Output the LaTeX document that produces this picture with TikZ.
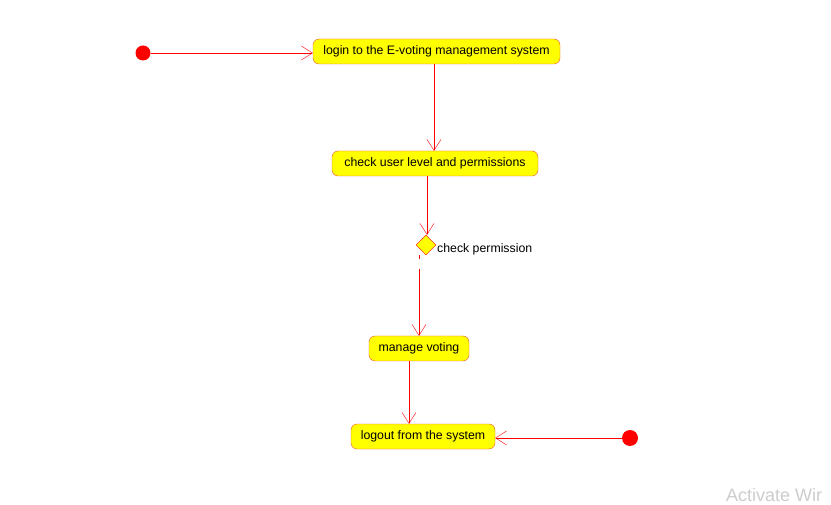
\documentclass[tikz,border=0pt]{standalone}
\usepackage{fontspec}
\setmainfont{Liberation Sans}
\usepackage{tikz}
\usetikzlibrary{shapes.geometric}
\usetikzlibrary{arrows.meta}
\definecolor{umlred}{RGB}{255,0,0}
\definecolor{umlborder}{RGB}{240,80,60}
\definecolor{umlyellow}{RGB}{255,255,0}
\definecolor{wmgray}{RGB}{205,205,205}

\begin{document}
\begin{tikzpicture}[x=1pt, y=-1pt]
    \tikzstyle{activity} = [draw=umlborder, thin, fill=umlyellow, rectangle, rounded corners=6pt, minimum height=25pt, inner xsep=9pt, font=\fontsize{12.3}{14}\selectfont];
    \tikzstyle{startdot} = [circle, fill=umlred, inner sep=0pt, minimum size=15pt];
    \tikzstyle{decision} = [draw=umlred, thin, fill=umlyellow, diamond, inner sep=0pt, minimum size=20pt];
    \tikzstyle{flow} = [umlred, thin, -{Straight Barb[length=11pt, width=14pt]}];

    \clip (0, 0) rectangle (831, 505);
    \fill[white] (0, 0) rectangle (831, 505);

    \node (start) at (143, 53) [startdot] {};
    \node (login) at (436.5, 51.5) [activity, minimum width=247pt] {login to the E-voting management system};
    \node (check-level) at (435, 163.5) [activity, minimum width=206pt] {check user level and permissions};
    \node (check-perm) at (426, 245) [decision] {};
    \node[anchor=west, font=\fontsize{12.3}{14}\selectfont, inner sep=0pt] (check-perm-label) at (437, 249) {check permission};
    \node (manage) at (419, 348.5) [activity, minimum width=100pt] {manage voting};
    \node (logout) at (423, 436.5) [activity, minimum width=144pt] {logout from the system};
    \node (finish) at (630, 438) [startdot, minimum size=16pt] {};

    \coordinate (gap-a) at (419, 255);
    \coordinate (gap-b) at (419, 259);
    \coordinate (gap-c) at (419, 269);

    \draw [flow] (start) -- (login.west |- start);
    \draw [flow] (434, 64) coordinate (login-out) -- (login-out |- check-level.north);
    \draw [flow] (427, 176) coordinate (level-out) -- (level-out |- check-perm.north);
    \draw [umlred, thin] (gap-a) -- (gap-b);
    \draw [flow] (gap-c) -- (gap-c |- manage.north);
    \draw [flow] (409, 361) coordinate (manage-out) -- (manage-out |- logout.north);
    \draw [flow] (finish) -- (logout.east |- finish);

    \node[anchor=base west, text=wmgray, font=\fontsize{18}{20}\selectfont, inner sep=0pt] (watermark) at (726, 501) {Activate Wir};
\end{tikzpicture}
\end{document}
